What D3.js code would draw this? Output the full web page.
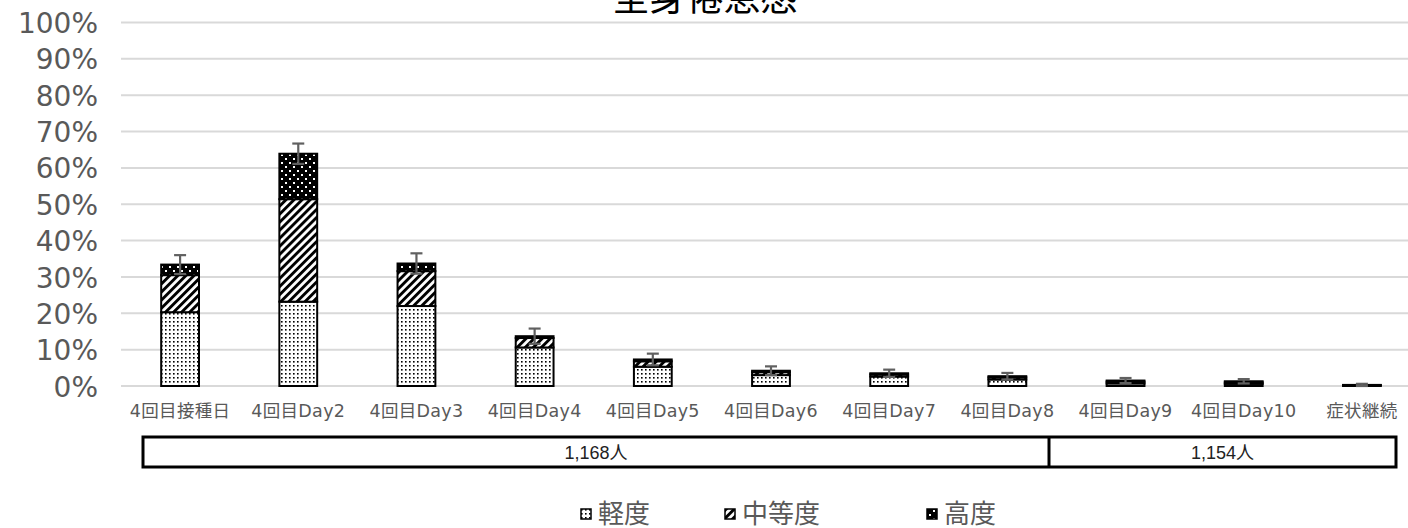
<!DOCTYPE html>
<html>
<head>
<meta charset="utf-8">
<script src="https://cdn.jsdelivr.net/npm/d3@7"></script>
<style>
  html, body { margin: 0; padding: 0; background: #fff; }
  svg { display: block; }
  text { font-family: "Noto Sans CJK JP", "Noto Sans", sans-serif; }
</style>
</head>
<body>
<svg id="chart" width="1408" height="528"></svg>
<script>
// ---- data ----
const title = "全身倦怠感";
const categories = ["4回目接種日", "4回目Day2", "4回目Day3", "4回目Day4", "4回目Day5", "4回目Day6", "4回目Day7", "4回目Day8", "4回目Day9", "4回目Day10", "症状継続"];
const seriesNames = ["軽度", "中等度", "高度"];
const mild     = [20.3, 23.2, 22.0, 10.6, 5.3, 3.0, 2.6, 1.8, 0.7, 0.6, 0.2];
const moderate = [10.2, 28.2, 9.6, 2.6, 1.5, 0.8, 0.6, 0.6, 0.5, 0.4, 0.1];
const severe   = [2.9, 12.5, 2.1, 0.5, 0.5, 0.4, 0.3, 0.3, 0.3, 0.3, 0.0];
const errorHalf = [2.6, 2.8, 2.8, 2.1, 1.6, 1.2, 1.0, 0.9, 0.7, 0.6, 0.3];
const yTicks = [0, 10, 20, 30, 40, 50, 60, 70, 80, 90, 100];
const groupLabels = ["1,168人", "1,154人"];

// ---- layout ----
const W = 1408, H = 528;
const plot = { left: 121, right: 1421, top: 22.5, bottom: 386 };
const svg = d3.select("#chart");

const x = d3.scaleBand().domain(categories).range([plot.left, plot.right]).paddingInner(0.68).paddingOuter(0.34);
const y = d3.scaleLinear().domain([0, 100]).range([plot.bottom, plot.top]);

// ---- patterns ----
const defs = svg.append("defs");
const pLight = defs.append("pattern").attr("id", "pLight").attr("patternUnits", "userSpaceOnUse").attr("width", 4).attr("height", 4);
pLight.append("rect").attr("width", 4).attr("height", 4).attr("fill", "#fff");
pLight.append("rect").attr("x", 1).attr("y", 1).attr("width", 1.6).attr("height", 1.6).attr("fill", "#000");

const pMod = defs.append("pattern").attr("id", "pMod").attr("patternUnits", "userSpaceOnUse")
  .attr("width", 5.7).attr("height", 8).attr("patternTransform", "rotate(45)");
pMod.append("rect").attr("width", 5.7).attr("height", 8).attr("fill", "#fff");
pMod.append("rect").attr("x", 0).attr("y", 0).attr("width", 2.9).attr("height", 8).attr("fill", "#000");

const pSev = defs.append("pattern").attr("id", "pSev").attr("patternUnits", "userSpaceOnUse").attr("width", 8).attr("height", 8);
pSev.append("rect").attr("width", 8).attr("height", 8).attr("fill", "#000");
pSev.append("rect").attr("x", 1).attr("y", 2).attr("width", 2).attr("height", 2).attr("fill", "#fff");
pSev.append("rect").attr("x", 5).attr("y", 6).attr("width", 2).attr("height", 2).attr("fill", "#fff");

const fills = ["url(#pLight)", "url(#pMod)", "url(#pSev)"];

// ---- gridlines ----
svg.append("g").selectAll("line").data(yTicks).join("line")
  .attr("x1", plot.left).attr("x2", W)
  .attr("y1", d => y(d)).attr("y2", d => y(d))
  .attr("stroke", "#d9d9d9").attr("stroke-width", 2);

// y axis labels
const yAxis = d3.axisLeft(y).tickValues(yTicks).tickFormat(d => d + "%").tickSize(0).tickPadding(0);
const gy = svg.append("g").attr("transform", `translate(${98},0)`).call(yAxis);
gy.select(".domain").remove();
gy.selectAll("text")
  .attr("fill", "#595959")
  .style("font-family", "'DejaVu Sans', sans-serif")
  .style("font-size", "28px")
  .style("font-weight", "normal")
  .attr("dy", "0.36em");

// ---- stacked bars ----
const rows = categories.map((c, i) => ({ cat: c, mild: mild[i], moderate: moderate[i], severe: severe[i] }));
const stack = d3.stack().keys(["mild", "moderate", "severe"])(rows);

const gBars = svg.append("g");
stack.forEach((layer, li) => {
  gBars.append("g").selectAll("rect").data(layer).join("rect")
    .attr("x", d => x(d.data.cat))
    .attr("width", x.bandwidth())
    .attr("y", d => y(d[1]))
    .attr("height", d => Math.max(0, y(d[0]) - y(d[1])))
    .attr("fill", fills[li])
    .attr("stroke", "#000")
    .attr("stroke-width", d => (d[1] - d[0]) > 0 ? 2 : 0);
});

// ---- error bars ----
const gErr = svg.append("g").attr("stroke", "#606060").attr("stroke-width", 2.2);
rows.forEach((r, i) => {
  const total = r.mild + r.moderate + r.severe;
  const cx = x(r.cat) + x.bandwidth() / 2;
  const yt = y(total + errorHalf[i]), yb = y(Math.max(0, total - errorHalf[i]));
  gErr.append("line").attr("x1", cx).attr("x2", cx).attr("y1", yt).attr("y2", yb);
  gErr.append("line").attr("x1", cx - 6).attr("x2", cx + 6).attr("y1", yt).attr("y2", yt);
  gErr.append("line").attr("x1", cx - 6).attr("x2", cx + 6).attr("y1", yb).attr("y2", yb);
});

// ---- x axis labels ----
const xAxis = d3.axisBottom(x).tickSize(0).tickPadding(0);
const gx = svg.append("g").attr("transform", `translate(0,${417})`).call(xAxis);
gx.select(".domain").remove();
gx.selectAll("text")
  .attr("fill", "#595959")
  .attr("dy", 0)
  .style("font-family", "'DejaVu Sans', 'Noto Sans CJK JP', sans-serif")
  .style("font-size", "17.5px")
  .style("letter-spacing", "0.3px");

// ---- title ----
svg.append("text").attr("x", 705).attr("y", 11).attr("text-anchor", "middle")
  .attr("fill", "#000").style("font-size", "37px").text(title);

// ---- group table ----
const tbl = { left: 143, right: 1396, top: 437, bottom: 467, split: 1049 };
const cells = [[tbl.left, tbl.split], [tbl.split, tbl.right]];
const gT = svg.append("g");
gT.append("rect").attr("x", tbl.left).attr("y", tbl.top).attr("width", tbl.right - tbl.left).attr("height", tbl.bottom - tbl.top)
  .attr("fill", "none").attr("stroke", "#000").attr("stroke-width", 3);
gT.append("line").attr("x1", tbl.split).attr("x2", tbl.split).attr("y1", tbl.top).attr("y2", tbl.bottom)
  .attr("stroke", "#000").attr("stroke-width", 3);
gT.selectAll("text").data(groupLabels).join("text")
  .attr("x", (d, i) => (cells[i][0] + cells[i][1]) / 2)
  .attr("y", (tbl.top + tbl.bottom) / 2 + 6.5)
  .attr("text-anchor", "middle").attr("fill", "#222")
  .style("font-family", "'Liberation Sans', 'Noto Sans CJK JP', sans-serif")
  .style("font-size", "18px").text(d => d);

// ---- legend ----
const legendX = [581, 725, 927];
const gL = svg.append("g");
seriesNames.forEach((n, i) => {
  gL.append("rect").attr("x", legendX[i]).attr("y", 509).attr("width", 10).attr("height", 10)
    .attr("fill", fills[i]).attr("stroke", "#000").attr("stroke-width", 1.5);
  gL.append("text").attr("x", legendX[i] + 17).attr("y", 523).attr("fill", "#595959")
    .style("font-size", "26px").text(n);
});
</script>
</body>
</html>
